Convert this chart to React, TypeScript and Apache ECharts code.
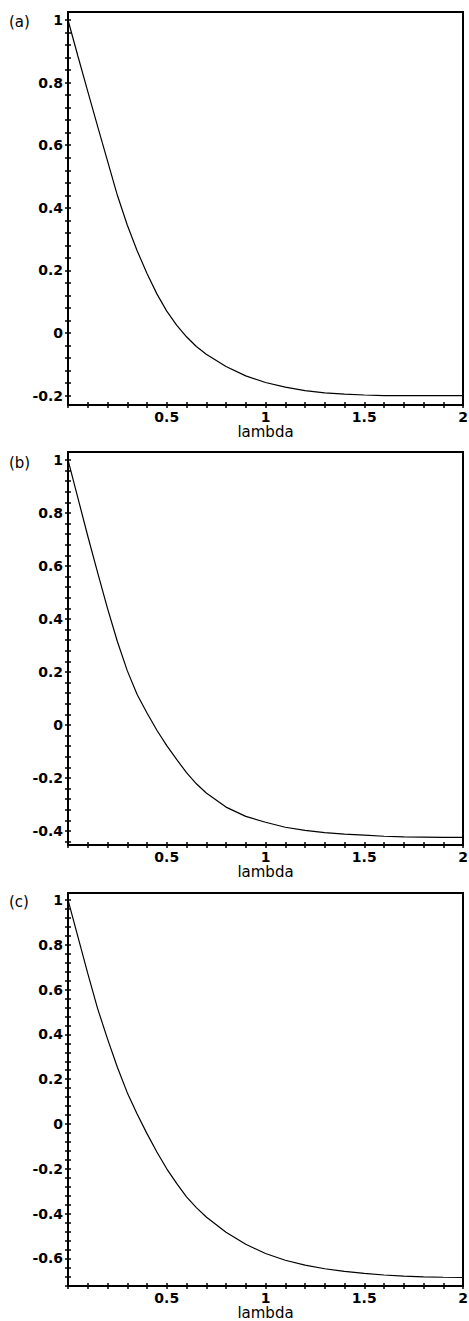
import React, { useEffect, useRef } from "react";
import * as echarts from "echarts";

// shared lambda sample points
const lambdaValues = [
  0, 0.05, 0.1, 0.15, 0.2, 0.25, 0.3, 0.35, 0.4, 0.45, 0.5, 0.55, 0.6, 0.65, 0.7,
  0.8, 0.9, 1.0, 1.1, 1.2, 1.3, 1.4, 1.5, 1.6, 1.7, 1.8, 1.9, 2.0,
];

// panel (a)
const valuesA = [
  1, 0.885, 0.772, 0.66, 0.55, 0.44, 0.345, 0.263, 0.19, 0.125, 0.07, 0.025, -0.012, -0.043, -0.068,
  -0.107, -0.137, -0.158, -0.173, -0.184, -0.191, -0.195, -0.198, -0.2, -0.2, -0.2, -0.2, -0.2,
];
// panel (b)
const valuesB = [
  1, 0.857, 0.713, 0.575, 0.44, 0.315, 0.205, 0.115, 0.045, -0.02, -0.078, -0.13, -0.18, -0.222, -0.257,
  -0.31, -0.345, -0.367, -0.386, -0.398, -0.406, -0.412, -0.416, -0.42, -0.422, -0.423, -0.424, -0.424,
];
// panel (c)
const valuesC = [
  1, 0.836, 0.672, 0.515, 0.38, 0.253, 0.14, 0.045, -0.043, -0.125, -0.2, -0.265, -0.325, -0.373, -0.415,
  -0.483, -0.537, -0.578, -0.608, -0.63, -0.646, -0.658, -0.667, -0.674, -0.679, -0.682, -0.684, -0.685,
];

const xTickLabels = [0.5, 1, 1.5, 2];
const yTickLabelsA = [-0.2, 0, 0.2, 0.4, 0.6, 0.8, 1];
const yTickLabelsB = [-0.4, -0.2, 0, 0.2, 0.4, 0.6, 0.8, 1];
const yTickLabelsC = [-0.6, -0.4, -0.2, 0, 0.2, 0.4, 0.6, 0.8, 1];
const panelLabels = ["(a)", "(b)", "(c)"];
const xAxisName = "lambda";

const yMins = [-0.23, -0.453, -0.723];
const yMaxs = [1.0256, 1.03, 1.031];

const panelTops = [12, 452, 893];
const panelLabelY = [22, 463, 902];
const GRID_LEFT = 68;
const GRID_WIDTH = 395;
const GRID_HEIGHT = 393;

const FONT = '"DejaVu Sans", Verdana, sans-serif';

function steps(from: number, to: number, step: number): number[] {
  const out: number[] = [];
  const n = Math.round((to - from) / step);
  for (let i = 0; i <= n; i++) out.push(Math.round((from + i * step) * 1e6) / 1e6);
  return out;
}

const xTicks = steps(0, 2, 0.1);

function fmt(v: number): string {
  const r = Math.round(v * 10) / 10;
  return String(r);
}

export default function App() {
  const ref = useRef<HTMLDivElement>(null);
  useEffect(() => {
    if (!ref.current) return;
    const chart = echarts.init(ref.current, undefined, { renderer: "svg" });
    const series = [valuesA, valuesB, valuesC];
    const yLabels = [yTickLabelsA, yTickLabelsB, yTickLabelsC];

    const grids: any[] = [];
    const xAxes: any[] = [];
    const yAxes: any[] = [];
    const seriesOpts: any[] = [];
    const graphics: any[] = [];

    for (let i = 0; i < 3; i++) {
      grids.push({
        left: GRID_LEFT,
        top: panelTops[i],
        width: GRID_WIDTH,
        height: GRID_HEIGHT,
        show: true,
        borderColor: "#000",
        borderWidth: 2,
        backgroundColor: "transparent",
        containLabel: false,
        outerBoundsMode: "none",
      });
      const yTicks = steps(-0.8, 1.08, 0.04).filter((v) => v >= yMins[i] && v <= yMaxs[i]);
      const common = {
        gridIndex: i,
        type: "value",
        splitLine: { show: false },
      };
      xAxes.push({
        ...common,
        min: 0,
        max: 2,
        position: "bottom",
        axisLine: { show: true, onZero: false, lineStyle: { color: "#000", width: 2 } },
        axisTick: { show: true, customValues: xTicks, length: 3, inside: false, lineStyle: { color: "#000", width: 1.5 } },
        axisLabel: {
          customValues: xTickLabels,
          formatter: (v: number) => fmt(v),
          margin: 5,
          color: "#000",
          fontFamily: FONT,
          fontWeight: "bold",
          fontSize: 14,
        },
        name: xAxisName,
        nameLocation: "middle",
        nameGap: 12,
        nameTextStyle: { color: "#000", fontFamily: FONT, fontSize: 15 },
      });
      xAxes.push({
        ...common,
        min: 0,
        max: 2,
        position: "bottom",
        axisLine: { show: false, onZero: false },
        axisTick: { show: true, customValues: xTicks, length: 3, inside: true, lineStyle: { color: "#000", width: 1.5 } },
        axisLabel: { show: false },
      });
      yAxes.push({
        ...common,
        min: yMins[i],
        max: yMaxs[i],
        position: "left",
        axisLine: { show: true, onZero: false, lineStyle: { color: "#000", width: 2 } },
        axisTick: { show: true, customValues: yTicks, length: 3, inside: false, lineStyle: { color: "#000", width: 1.5 } },
        axisLabel: {
          customValues: yLabels[i],
          formatter: (v: number) => fmt(v),
          margin: 5,
          color: "#000",
          fontFamily: FONT,
          fontWeight: "bold",
          fontSize: 14,
        },
      });
      yAxes.push({
        ...common,
        min: yMins[i],
        max: yMaxs[i],
        position: "left",
        axisLine: { show: false, onZero: false },
        axisTick: { show: true, customValues: yTicks, length: 3, inside: true, lineStyle: { color: "#000", width: 1.5 } },
        axisLabel: { show: false },
      });
      seriesOpts.push({
        type: "line",
        xAxisIndex: 2 * i,
        yAxisIndex: 2 * i,
        data: lambdaValues.map((x, j) => [x, series[i][j]]),
        showSymbol: false,
        smooth: false,
        lineStyle: { color: "#000", width: 1.2 },
        silent: true,
      });
      graphics.push({
        type: "text",
        x: 9,
        y: panelLabelY[i],
        style: {
          text: panelLabels[i],
          fill: "#000",
          fontFamily: FONT,
          fontSize: 15,
          verticalAlign: "middle",
          align: "left",
        },
      });
    }

    chart.setOption({
      animation: false,
      backgroundColor: "#fff",
      grid: grids,
      xAxis: xAxes,
      yAxis: yAxes,
      series: seriesOpts,
      graphic: graphics,
    });
    return () => chart.dispose();
  }, []);
  return (
    <div
      ref={ref}
      style={{ position: "absolute", left: 0, top: 0, width: 469, height: 1321 }}
    />
  );
}
